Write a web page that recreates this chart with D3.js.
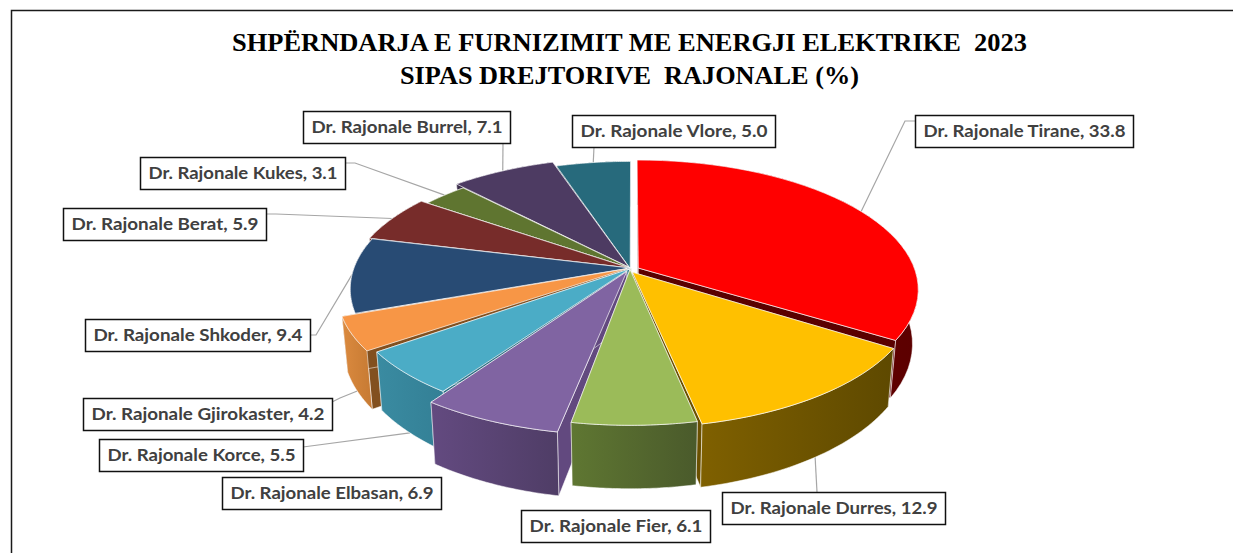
<!DOCTYPE html>
<html><head><meta charset="utf-8">
<script src="https://cdn.jsdelivr.net/npm/d3@7"></script>
<style>html,body{margin:0;padding:0;background:#fff}svg{display:block}</style>
</head><body><svg id="c" width="1233" height="553"></svg>
<script>
const titleLines = ["SHPËRNDARJA E FURNIZIMIT ME ENERGJI ELEKTRIKE  2023", "SIPAS DREJTORIVE  RAJONALE (%)"];
const categories = ["Dr. Rajonale Tirane","Dr. Rajonale Durres","Dr. Rajonale Fier","Dr. Rajonale Elbasan","Dr. Rajonale Korce","Dr. Rajonale Gjirokaster","Dr. Rajonale Shkoder","Dr. Rajonale Berat","Dr. Rajonale Kukes","Dr. Rajonale Burrel","Dr. Rajonale Vlore"];
const values = [33.8,12.9,6.1,6.9,5.5,4.2,9.4,5.9,3.1,7.1,5.0];

// styling and layout, separate from the data
const topColors  = ["#FF0000","#FFC000","#9BBB59","#8064A2","#4BACC6","#F79646","#284B74","#772C2A","#5F7530","#4D3B62","#276A7C"];
const sideFrom   = ["#700000","#7F6000","#5F7732","#634A80","#3A8BA1","#DB8A3F","#1E3858","#5A2120","#47581F","#3A2C4A","#1D505E"];
const sideTo     = ["#5C0000","#5E4900","#4A5A2B","#4F3D66","#337F95","#C67A33","#1E3858","#5A2120","#47581F","#3A2C4A","#1D505E"];
const wallColors = ["#5A0000","#6B5000","#6B5A33","#62497F","#2F7286","#82501F","#1E3858","#4A1B1A","#47581F","#2E2340","#1D505E"];
const explode    = [0.03,0.055,0.04,0.1,0.03,0.047,0,0.012,-0.02,0.03,-0.015];
const apexShift  = [0.03,0.035,0.012,0.03,0.008,0.012,0,0.004,-0.005,0.008,-0.004];
const dirTilt    = [0.52,0.35,0,0,-0.5,0,0,0,0,0,0];
const boxes = [[915,115,218,32],[722,492,223,32],[521,510,189,32],[222,477,219,32],[99,439,204,32],[83,398,249,32],[85,319,225,32],[63,208,203,32],[140,157,205,32],[303,111,207,32],[572,115,203,32]];
const elbows = [[[905,121],[915,121]],[[817,492]],null,null,[[303,447]],[[340,398],[332,402]],[[316,335],[310,335]],[[276,214],[266,214]],[[355,163],[345,163]],[[503,143]],[[594,147]]];

const cx=630, cy=268, rx=276, ry=125.6, persp=0.163, depth=52.7, converge=0.98;
const svg=d3.select("#c"), defs=svg.append("defs");
const scaleX=d3.scaleLinear().domain([-1,1]).range([cx-rx,cx+rx]);
const scaleY=d3.scaleLinear().domain([-1,1]).range([cy-ry,cy+ry]);

// perspective projection of a pie-plane point
function project(X,Y,bottom){
  const w=1-persp*Y;
  const x=cx+(scaleX(X)-cx)/w, y=cy+(scaleY(Y)-cy)/w;
  return bottom?[cx+(x-cx)*converge,y+depth/w]:[x,y];
}
const pie=d3.pie().sort(null).value(d=>d);
const arcs=pie(values).map((a,i)=>{
  const mid=(a.startAngle+a.endAngle)/2, dir=mid+dirTilt[i];
  const ox=explode[i]*Math.sin(dir), oy=-explode[i]*Math.cos(dir);
  const ax=apexShift[i]*Math.sin(dir), ay=-apexShift[i]*Math.cos(dir);
  const pt=(t,b)=>project(ox+Math.sin(t),oy-Math.cos(t),b);
  return {i,a,mid,ox,oy,pt,apex:b=>project(ax,ay,b)};
});
const line=d3.line();
const rimAngles=d=>d3.range(0,41).map(k=>d.a.startAngle+(d.a.endAngle-d.a.startAngle)*k/40);

// frame
svg.append("path").attr("d","M11.5,553V10.5H1233").attr("fill","none").attr("stroke","#1a1a1a").attr("stroke-width",1.5);

// title
svg.selectAll("text.t").data(titleLines).join("text").attr("class","t")
  .attr("x",629.5).attr("y",(d,i)=>51+i*33)
  .attr("text-anchor","middle").style("white-space","pre")
  .attr("font-family","Liberation Serif").attr("font-weight","bold").attr("font-size",25.5).attr("fill","#000")
  .attr("textLength",(d,i)=>i?459:795).attr("lengthAdjust","spacingAndGlyphs").text(d=>d);

// gradients
arcs.forEach(d=>{
  const g=defs.append("linearGradient").attr("id","g"+d.i);
  g.append("stop").attr("offset",0).attr("stop-color",sideFrom[d.i]);
  g.append("stop").attr("offset",1).attr("stop-color",sideTo[d.i]);
});

// leader lines under the pie
const anchor=d=>{const Y=-Math.cos(d.mid);return project(d.ox+Math.sin(d.mid),d.oy+Y,Y>0.2);};
svg.append("g").selectAll("path").data(arcs.filter(d=>elbows[d.i])).join("path")
  .attr("d",d=>line([anchor(d),...elbows[d.i]])).attr("fill","none").attr("stroke","#A6A6A6").attr("stroke-width",1.2);

// slices, painted back to front
const order=arcs.slice().sort((p,q)=>(-Math.cos(p.mid))-(-Math.cos(q.mid)));
const slices=svg.append("g").selectAll("g").data(order).join("g");
const edge="rgba(255,255,255,0.75)";
slices.append("path").attr("d",d=>line([d.apex(0),d.pt(d.a.startAngle,0),d.pt(d.a.startAngle,1),d.apex(1)])+"Z")
  .attr("fill",d=>wallColors[d.i]).attr("stroke",edge).attr("stroke-width",.7);
slices.append("path").attr("d",d=>line([d.apex(0),d.pt(d.a.endAngle,0),d.pt(d.a.endAngle,1),d.apex(1)])+"Z")
  .attr("fill",d=>wallColors[d.i]).attr("stroke",edge).attr("stroke-width",.7);
slices.append("path").attr("d",d=>{
    const ts=rimAngles(d);
    return line([...ts.map(t=>d.pt(t,0)),...ts.slice().reverse().map(t=>d.pt(t,1))])+"Z";
  }).attr("fill",d=>`url(#g${d.i})`).attr("stroke",edge).attr("stroke-width",.7);
slices.append("path").attr("d",d=>line([d.apex(0),...rimAngles(d).map(t=>d.pt(t,0))])+"Z")
  .attr("fill",d=>topColors[d.i]).attr("stroke",edge).attr("stroke-width",.9);

// labels
const lab=svg.append("g").selectAll("g").data(categories).join("g");
lab.append("rect").attr("x",(d,i)=>boxes[i][0]+.5).attr("y",(d,i)=>boxes[i][1]+.5)
  .attr("width",(d,i)=>boxes[i][2]).attr("height",(d,i)=>boxes[i][3])
  .attr("fill","#fff").attr("stroke","#111").attr("stroke-width",1.5);
lab.append("text").attr("x",(d,i)=>boxes[i][0]+boxes[i][2]/2+.5).attr("y",(d,i)=>boxes[i][1]+22)
  .attr("text-anchor","middle").attr("font-family","Lato").attr("font-weight","bold").attr("font-size",17).attr("fill","#404040")
  .attr("textLength",(d,i)=>boxes[i][2]-16).attr("lengthAdjust","spacingAndGlyphs")
  .text((d,i)=>`${d}, ${values[i].toFixed(1)}`);
</script></body></html>
